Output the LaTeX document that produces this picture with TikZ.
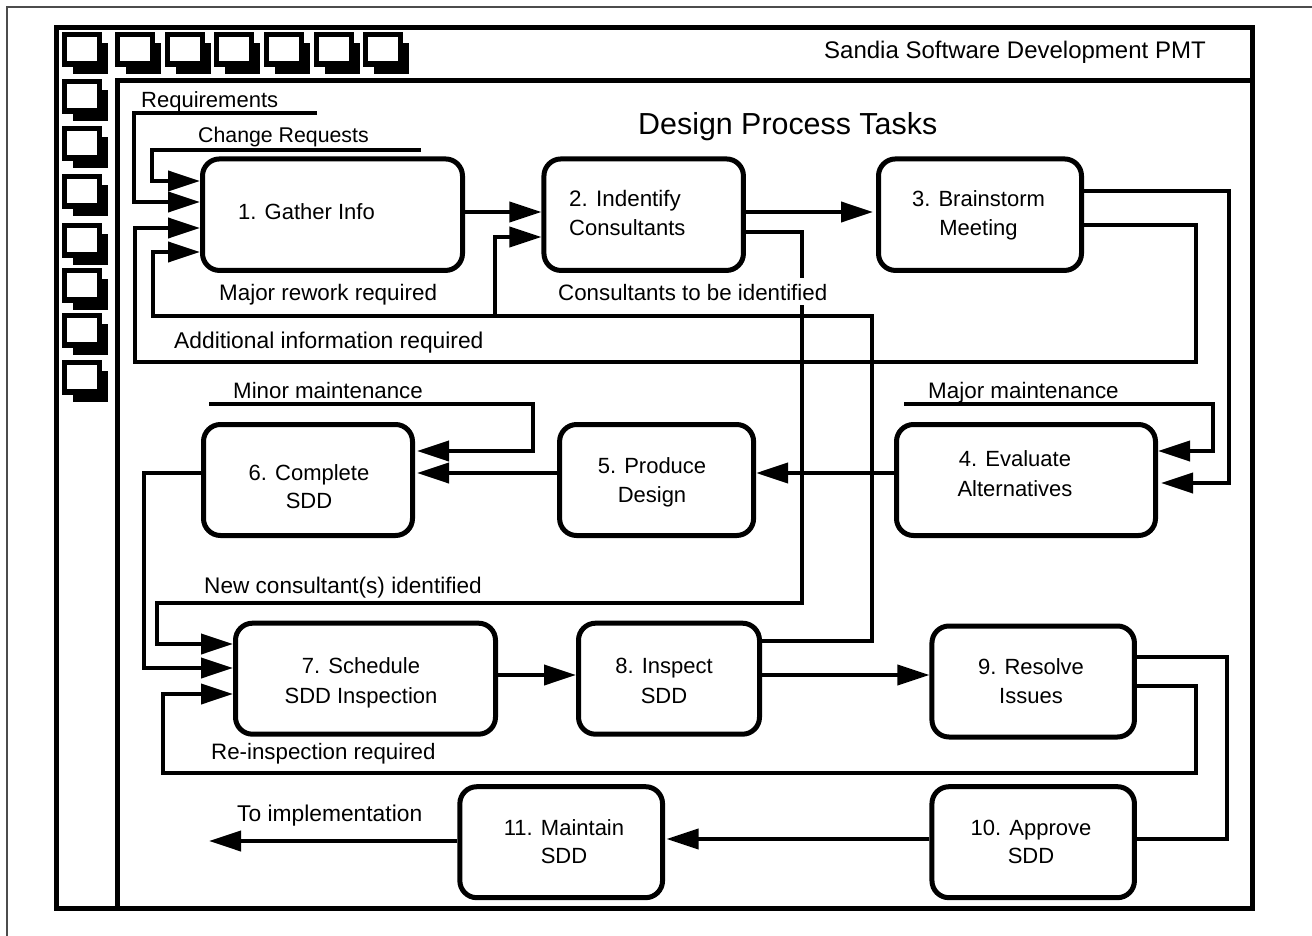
\documentclass[tikz,border=0pt]{standalone}
\usepackage{fontspec}
\setmainfont{Liberation Sans}
\usetikzlibrary{arrows.meta}
\tikzset{
  x=1pt,y=-1pt,
  task/.style={draw=black,line width=5pt,rounded corners=17pt,fill=white,minimum width=#1,minimum height=111pt,inner sep=0pt},
  flow/.style={draw=black,line width=4pt,-{Triangle[length=32pt,width=20pt]}},
  line/.style={draw=black,line width=4pt},
  lab/.style={anchor=base west,inner sep=0pt,font=\fontsize{#1}{26}\selectfont},
  lab/.default=22,
  tasktext/.style={anchor=base,inner sep=0pt,font=\fontsize{22}{29}\selectfont},
  iconpic/.pic={
    \fill[black] (11,11) rectangle (46,42);
    \fill[black] (0,0) rectangle (40,35);
    \fill[white] (5,5) rectangle (35,29);
  }
}
\begin{document}
\begin{tikzpicture}
\useasboundingbox (0,0) rectangle (1312,936);
\fill[white] (0,0) rectangle (1312,936);
\draw[line width=2pt,color=black!70] (1312,7.5) -- (6.5,7.5) -- (6.5,936);
\draw[line width=5pt,line join=miter] (56.5,27.5) rectangle (1252.5,908);
\draw[line width=5pt] (117.5,908) -- (117.5,80.5) -- (1252.5,80.5);
\foreach \p in {62,115,165,214,264,314,363} \pic at (\p,32) {iconpic};
\foreach \p in {79,126,174,223,268,313,360} \pic at (62,\p) {iconpic};
% tasks
\node[task=260pt,minimum height=111.5pt] (n1) at (332.5,214.7) {};
\node[task=199.5pt,minimum height=111.5pt] (n2) at (643.7,214.7) {};
\node[task=203pt,minimum height=111.5pt] (n3) at (980,214.7) {};
\node[task=259pt] (n4) at (1026,480) {};
\node[task=194pt] (n5) at (656.6,480) {};
\node[task=209pt] (n6) at (308,480) {};
\node[task=260pt] (n7) at (365.5,678.7) {};
\node[task=181pt] (n8) at (669,678.7) {};
\node[task=202.5pt] (n9) at (1033.2,681.5) {};
\node[task=202.5pt] (n10) at (1033.2,842.2) {};
\node[task=202.7pt] (n11) at (561.2,842.2) {};
% free ends
\coordinate (reqS) at (317,113.5);
\coordinate (chgS) at (421,150);
\coordinate (minS) at (209,404);
\coordinate (majS) at (904,404);
\coordinate (outE) at (209,841);
\coordinate (rejoin) at (495,316);
% connectors
\draw[flow] (reqS) -- (134,113.5) -- (134,202) -- (n1.west |- 0,202);
\draw[flow] (chgS) -- (152,150) -- (152,181) -- (n1.west |- 0,181);
\draw[flow] (n3.east |- 0,225) -- (1196,225) -- (1196,361.5) -- (135,361.5) -- (135,228) -- (n1.west |- 0,228);
\draw[line] (n8.east |- 0,640.7) -- (872,640.7) -- (872,316) -- (rejoin);
\draw[flow] (rejoin) -- (152.5,316) -- (152.5,252) -- (n1.west |- 0,252);
\draw[flow] (rejoin) -- (495,237) -- (n2.west |- 0,237);
\draw[flow] (n1.east |- 0,212) -- (n2.west |- 0,212);
\draw[flow,shorten >=3pt] (n2.east |- 0,212) -- (n3.west |- 0,212);
\draw[flow] (n2.east |- 0,232) -- (802,232) -- (802,603) -- (157,603) -- (157,644) -- (n7.west |- 0,644);
\draw[flow,shorten >=3pt] (n3.east |- 0,191) -- (1229,191) -- (1229,483) -- (n4.east |- 0,483);
\draw[flow] (majS) -- (1213,404) -- (1213,451) -- (n4.east |- 0,451);
\draw[flow] (n4.west |- 0,473) -- (n5.east |- 0,473);
\draw[flow,shorten >=2pt] (n5.west |- 0,473) -- (n6.east |- 0,473);
\draw[flow,shorten >=2pt] (minS) -- (533,404) -- (533,451) -- (n6.east |- 0,451);
\draw[flow] (n6.west |- 0,473) -- (144,473) -- (144,668) -- (n7.west |- 0,668);
\draw[flow] (n7.east |- 0,675) -- (n8.west |- 0,675);
\draw[flow] (n8.east |- 0,675) -- (n9.west |- 0,675);
\draw[line] (n9.east |- 0,657) -- (1226.5,657) -- (1226.5,839) -- (n10.east |- 0,839);
\draw[flow] (n9.east |- 0,686) -- (1196,686) -- (1196,772.7) -- (163,772.7) -- (163,694) -- (n7.west |- 0,694);
\draw[flow,shorten >=1.5pt] (n10.west |- 0,839) -- (n11.east |- 0,839);
\draw[flow] (n11.west |- 0,841) -- (outE);
% task texts
\node[lab] (t1) at (238,220) {1. Gather Info};
\node[lab=22.4] (t2) at (569,206.5) {2. Indentify};
\node[lab] (t2b) at (569,235.5) {Consultants};
\node[tasktext] (t3) at (978.5,206.7) {3. Brainstorm};
\node[tasktext] (t3b) at (978.5,235.7) {Meeting};
\node[tasktext] (t4) at (1015,466.7) {4. Evaluate};
\node[tasktext] (t4b) at (1015,496) {Alternatives};
\node[tasktext] (t5) at (652,473.5) {5. Produce};
\node[tasktext] (t5b) at (652,502.5) {Design};
\node[tasktext] (t6) at (309,480) {6. Complete};
\node[tasktext] (t6b) at (309,508.5) {SDD};
\node[tasktext] (t7) at (361,673.3) {7. Schedule};
\node[tasktext] (t7b) at (361,703) {SDD Inspection};
\node[tasktext] (t8) at (664,673.3) {8. Inspect};
\node[tasktext] (t8b) at (664,703) {SDD};
\node[tasktext] (t9) at (1031,674) {9. Resolve};
\node[tasktext] (t9b) at (1031,703) {Issues};
\node[tasktext] (t10) at (1031,835) {10. Approve};
\node[tasktext] (t10b) at (1031,863.5) {SDD};
\node[tasktext] (t11) at (564,835) {11. Maintain};
\node[tasktext] (t11b) at (564,863.5) {SDD};
% labels
\node[lab] (lreq) at (141,108) {Requirements};
\node[lab=21.3] (lchg) at (198,143) {Change Requests};
\node[lab=22.4] (lmaj) at (219,300) {Major rework required};
\node[lab=22.3,fill=white,text height=22pt,text depth=5pt] (lcon) at (558,300) {Consultants to be identified};
\node[lab=22.8] (ladd) at (174,348.3) {Additional information required};
\node[lab=22.3] (lmin) at (233,398) {Minor maintenance};
\node[lab=22.4] (lmjm) at (928,398) {Major maintenance};
\node[lab=22.6] (lnew) at (204,593.3) {New consultant(s) identified};
\node[lab=22.3] (lre) at (211,759) {Re-inspection required};
\node[lab=22.8] (limp) at (237,821.7) {To implementation};
\node[lab=24] (lhead) at (824,58.3) {Sandia Software Development PMT};
\node[lab=30.4] (ltitle) at (638,135) {Design Process Tasks};
\end{tikzpicture}
\end{document}
